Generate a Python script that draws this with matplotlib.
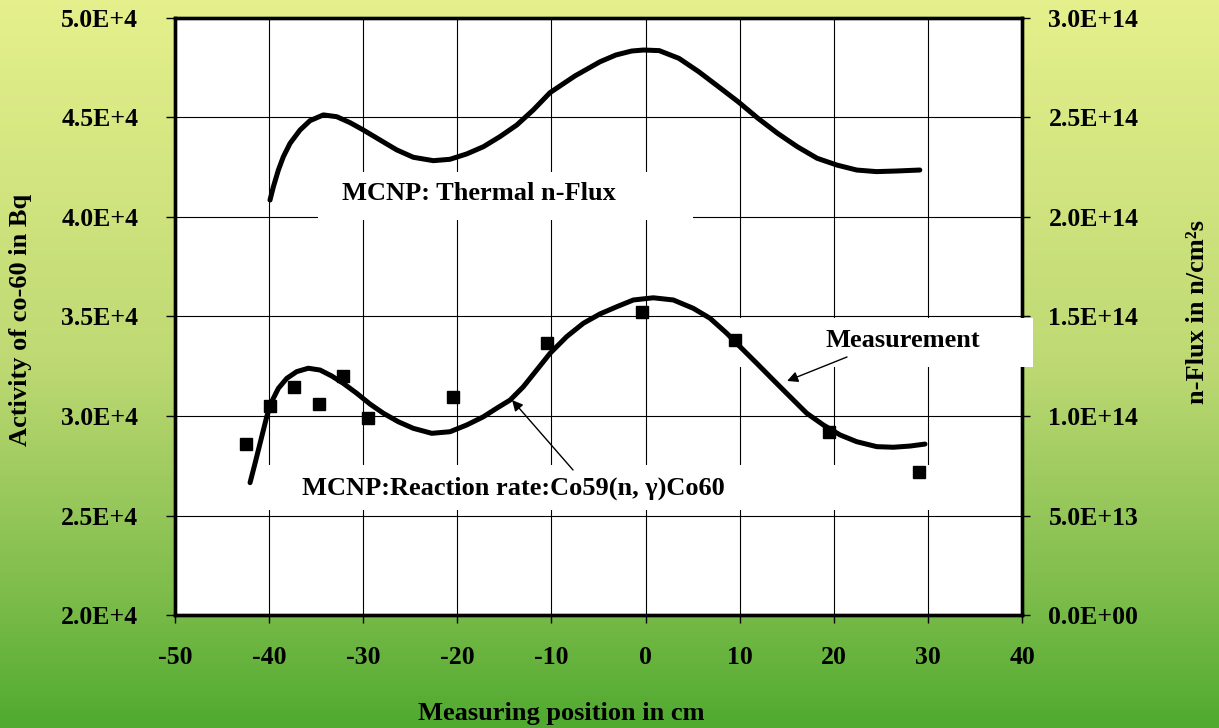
import numpy as np
import matplotlib
matplotlib.use('Agg')
import matplotlib.pyplot as plt
from matplotlib.patches import Rectangle
from matplotlib.colors import LinearSegmentedColormap

# ---------------------------------------------------------------------------
# Datos
# ---------------------------------------------------------------------------

# MCNP: tasa de reaccion Co59(n,g)Co60 (eje izquierdo, Bq)
rr_x = [-42.03, -41.50, -40.79, -40.26, -39.73, -39.02, -38.13, -37.07, -35.84,
        -34.59, -33.35, -32.12, -30.69, -29.28, -27.87, -26.27, -24.68, -22.72,
        -20.78, -19.00, -17.24, -15.82, -14.40, -12.99, -11.57, -10.15, -8.38,
        -6.61, -4.84, -3.07, -1.30, 0.82, 2.95, 5.07, 6.85, 8.62, 10.04, 11.81,
        13.57, 15.35, 17.12, 18.89, 20.66, 22.43, 24.56, 26.33, 28.10, 29.69]
rr_y = [26650, 27620, 28960, 29960, 30720, 31390, 31890, 32230, 32400,
        32310, 32010, 31640, 31140, 30600, 30140, 29710, 29380, 29130,
        29210, 29550, 29960, 30390, 30800, 31470, 32310, 33150, 33990,
        34660, 35130, 35490, 35830, 35940, 35830, 35410, 34910, 34160, 33480, 32650,
        31810, 30970, 30140, 29550, 29050, 28710, 28460, 28430, 28490, 28590]

# MCNP: flujo termico (eje derecho, n/cm2s)
th_x = [-39.91, -39.55, -39.02, -38.49, -37.78, -36.72, -35.66, -34.24, -32.82,
        -31.40, -29.99, -28.22, -26.44, -24.68, -22.55, -20.78, -19.00, -17.24,
        -15.47, -13.69, -11.93, -10.15, -7.50, -4.84, -3.16, -1.48, -0.22, 1.45,
        3.55, 5.65, 7.74, 9.84, 11.94, 14.04, 16.13, 18.23, 20.33, 22.43, 24.53,
        26.62, 29.14]
th_y = [2.085e14, 2.152e14, 2.236e14, 2.303e14, 2.370e14, 2.437e14, 2.484e14,
        2.513e14, 2.504e14, 2.474e14, 2.437e14, 2.387e14, 2.337e14, 2.300e14,
        2.283e14, 2.290e14, 2.317e14, 2.353e14, 2.404e14, 2.462e14, 2.538e14,
        2.625e14, 2.709e14, 2.780e14, 2.814e14, 2.834e14, 2.839e14, 2.836e14,
        2.797e14, 2.730e14, 2.655e14, 2.579e14, 2.496e14, 2.420e14, 2.353e14,
        2.295e14, 2.261e14, 2.236e14, 2.228e14, 2.231e14, 2.236e14]

# Medicion (cuadrados)
meas_x = [-42.46, -39.91, -37.36, -34.67, -32.12, -29.46, -20.43, -10.50,
          -0.41, 9.50, 19.52, 29.09]
meas_y = [28590, 30500, 31470, 30600, 32010, 29880, 30970, 33650,
          35240, 33820, 29210, 27200]

x_ticks = [-50, -40, -30, -20, -10, 0, 10, 20, 30, 40]
left_ticks = [2.0e4, 2.5e4, 3.0e4, 3.5e4, 4.0e4, 4.5e4, 5.0e4]
left_labels = ['2.0E+4', '2.5E+4', '3.0E+4', '3.5E+4', '4.0E+4', '4.5E+4', '5.0E+4']
right_ticks = [0, 5e13, 1e14, 1.5e14, 2e14, 2.5e14, 3e14]
right_labels = ['0.0E+00', '5.0E+13', '1.0E+14', '1.5E+14', '2.0E+14',
                '2.5E+14', '3.0E+14']

# ---------------------------------------------------------------------------
# Figura
# ---------------------------------------------------------------------------

plt.rcParams['font.family'] = ['Liberation Serif', 'DejaVu Serif']
plt.rcParams['font.weight'] = 'bold'
plt.rcParams['axes.unicode_minus'] = False

fig = plt.figure(figsize=(12.19, 7.28), dpi=100)

# fondo degradado amarillo -> verde
bg = fig.add_axes([0, 0, 1, 1], zorder=-10)
cmap = LinearSegmentedColormap.from_list(
    'fondo', [(0.0, '#E5F08C'), (0.5, '#BED973'), (0.82, '#7DBC4B'), (1.0, '#50AA30')])
bg.imshow(np.linspace(0, 1, 400).reshape(-1, 1), aspect='auto', cmap=cmap,
          extent=[0, 1, 0, 1], origin='upper')
bg.set_axis_off()

ax = fig.add_axes([0.1436, 0.1552, 0.6948, 0.8201])
ax.set_facecolor('white')
ax.set_xlim(-50, 40)
ax.set_ylim(2.0e4, 5.0e4)
ax.set_xticks(x_ticks)
ax.set_xticklabels([str(v) for v in x_ticks])
ax.set_yticks(left_ticks)
ax.set_yticklabels(left_labels)
ax.grid(True, color='black', lw=0.8)
ax.tick_params(axis='x', direction='out', length=6, width=1, labelsize=18.5, pad=16)
ax.tick_params(axis='y', direction='out', length=6.5, width=1, labelsize=18.5, pad=20)

ax2 = ax.twinx()
ax2.set_ylim(0, 3e14)
ax2.set_yticks(right_ticks)
ax2.set_yticklabels(right_labels)
ax2.tick_params(axis='y', direction='out', length=6, width=1, labelsize=18.5, pad=13)

for a in (ax, ax2):
    for s in a.spines.values():
        s.set_linewidth(2.4)
        s.set_color('black')

# cajas blancas de las etiquetas (tapan la rejilla)
cajas = [(0.1688, 0.6616, 0.4427, 0.0804),
         (0.0870, 0.1759, 0.8830, 0.0754),
         (0.6260, 0.4154, 0.3870, 0.0821)]
for (x0, y0, w, h) in cajas:
    ax2.add_patch(Rectangle((x0, y0), w, h, transform=ax2.transAxes,
                            facecolor='white', edgecolor='none', zorder=3,
                            clip_on=False))

# curvas y puntos
ax2.plot(th_x, th_y, color='black', lw=3.6, zorder=4, solid_capstyle='round')
ax2.plot(rr_x, rr_y, color='black', lw=3.6, zorder=4, solid_capstyle='round',
         transform=ax.transData)
ax2.plot(meas_x, meas_y, 's', color='black', ms=9, zorder=5,
         transform=ax.transData)
ax2.set_ylim(0, 3e14)
ax2.set_xlim(-50, 40)

# textos
ax2.text(0.1972, 0.7052, 'MCNP: Thermal n-Flux', transform=ax2.transAxes,
         fontsize=19, va='center', ha='left', zorder=6)
ax2.text(0.1500, 0.2127, 'MCNP:Reaction rate:Co59(n, γ)Co60', transform=ax2.transAxes,
         fontsize=19, va='center', ha='left', zorder=6)
ax2.text(0.7674, 0.4598, 'Measurement', transform=ax2.transAxes,
         fontsize=19, va='center', ha='left', zorder=6)

flecha = dict(arrowstyle='-|>', color='black', lw=1, mutation_scale=16,
              shrinkA=0, shrinkB=0)
ax2.annotate('', xy=(0.7226, 0.3920), xytext=(0.7934, 0.4322),
             xycoords='axes fraction', arrowprops=flecha, zorder=6)
ax2.annotate('', xy=(0.3979, 0.3601), xytext=(0.4699, 0.2429),
             xycoords='axes fraction', arrowprops=flecha, zorder=6)

# titulos de ejes
fig.text(0.4602, 0.0206, 'Measuring position in cm', fontsize=19,
         ha='center', va='center')
fig.text(0.0172, 0.5611, 'Activity of co-60 in Bq', fontsize=19,
         rotation=90, ha='center', va='center')
fig.text(0.9820, 0.5714, 'n-Flux in n/cm²s', fontsize=19,
         rotation=90, ha='center', va='center')

fig.savefig('out.png', dpi=100)
